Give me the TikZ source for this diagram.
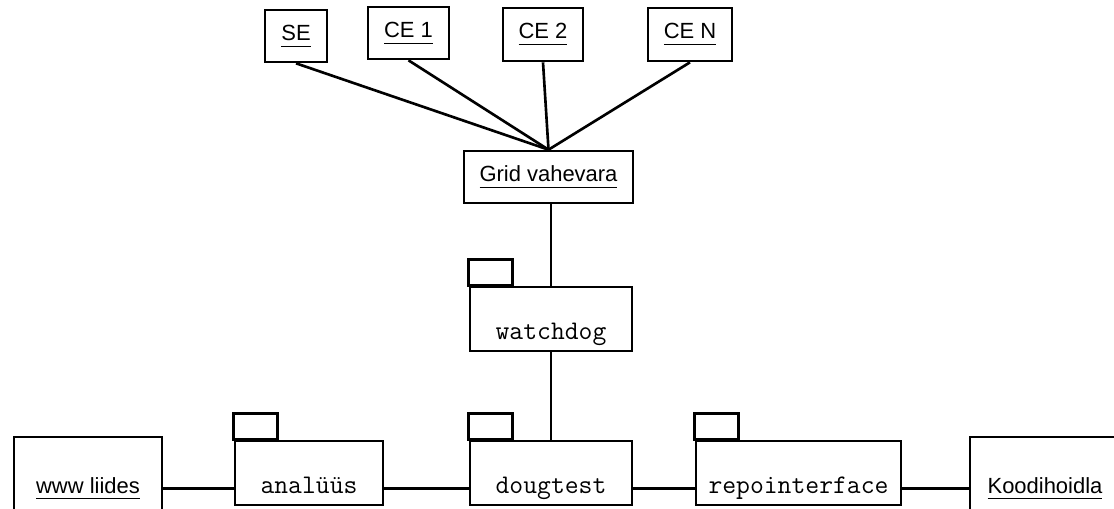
\documentclass[tikz,border=0pt]{standalone}
\usepackage{fontspec}
\setmainfont{Liberation Sans}

\newcommand\ulabel[1]{\underline{\rule[-1.8pt]{0pt}{1pt}#1}}

\tikzset{
  obj/.style={draw, line width=1.5pt, inner sep=0pt, font=\fontsize{12.5}{15}\selectfont},
  pkg/.style={draw, line width=1.5pt, inner sep=0pt, minimum width=#1,
    text height=1.04cm, text depth=0.24cm, anchor=base,
    font=\ttfamily\fontsize{15.3}{18}\selectfont},
  lowobj/.style={obj, minimum width=#1, text height=1.12cm, text depth=1cm, anchor=base},
}

\begin{document}
\begin{tikzpicture}[x=0.02cm, y=-0.02cm, line width=1.5pt]
  \useasboundingbox (0,0) rectangle (1114,508);
  \clip (0,0) rectangle (1114,508);

  % Grid side
  \node[obj, minimum width=1.24cm, minimum height=1.04cm] (se)  at (296,36)   {\ulabel{SE}};
  \node[obj, minimum width=1.62cm, minimum height=1.04cm] (ce1) at (408.5,33) {\ulabel{CE 1}};
  \node[obj, minimum width=1.6cm,  minimum height=1.06cm] (ce2) at (543,34.5) {\ulabel{CE 2}};
  \node[obj, minimum width=1.68cm, minimum height=1.06cm] (cen) at (690,34.5) {\ulabel{CE N}};
  \node[obj, minimum width=3.38cm, minimum height=1.04cm] (grid) at (548.5,177) {\ulabel{Grid vahevara}};

  % packages
  \node[pkg=3.24cm] (watchdog) at (551,339) {watchdog};
  \node[pkg=2.96cm] (analuus)  at (309,493) {analüüs};
  \node[pkg=3.24cm] (dougtest) at (551,493) {dougtest};
  \node[pkg=4.1cm]  (repo)     at (798.5,493) {repointerface};

  \node[lowobj=2.96cm] (www)  at (88,493)   {\ulabel{www liides}};
  \node[lowobj=3cm]    (kood) at (1045,493) {\ulabel{Koodihoidla}};

  \foreach \p in {watchdog,analuus,dougtest,repo}
    \draw (\p.north west) rectangle ++(44,-26);

  \foreach \t in {se,ce1,ce2,cen}
    \draw (\t.south) -- (grid.north);
  \draw (grid.south -| watchdog.north) -- (watchdog.north);
  \draw (watchdog.south) -- (dougtest.north);

  \draw (www.mid east) -- (analuus.mid west);
  \draw (analuus.mid east) -- (dougtest.mid west);
  \draw (dougtest.mid east) -- (repo.mid west);
  \draw (repo.mid east) -- (kood.mid west);
\end{tikzpicture}
\end{document}
